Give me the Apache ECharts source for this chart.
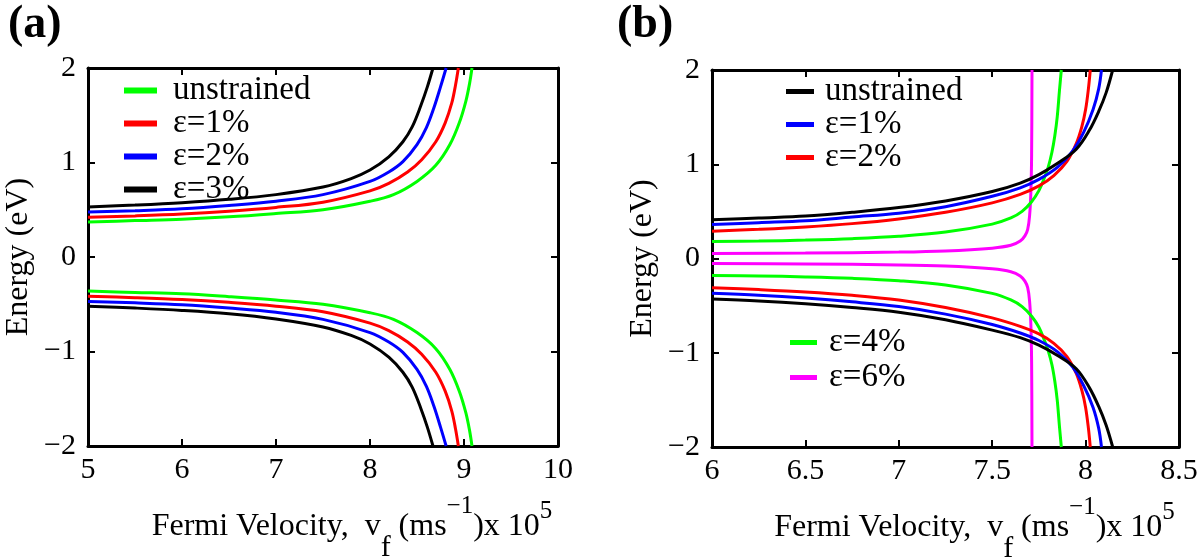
<!DOCTYPE html>
<html>
<head>
<meta charset="utf-8">
<script src="https://cdn.jsdelivr.net/npm/echarts@6/dist/echarts.min.js"></script>
<style>
html,body{margin:0;padding:0;background:#fff;}
#chart{width:1200px;height:560px;}
</style>
</head>
<body>
<div id="chart"></div>
<script>
// ---------- Panel (a) data: Fermi velocity (x 10^5 m/s) vs Energy (eV) ----------
const aTicksX = [5, 6, 7, 8, 9, 10];
const aTicksY = [-2, -1, 0, 1, 2];

const a_v_unstrained = [5, 5.5, 6, 6.5, 7, 7.5, 8, 8.25, 8.5, 8.7, 8.85, 8.95, 9.02, 9.06, 9.085];
const a_Eup_unstrained = [0.37, 0.385, 0.40, 0.425, 0.46, 0.50, 0.59, 0.66, 0.80, 0.97, 1.19, 1.42, 1.65, 1.84, 2.0];
const a_Elo_unstrained = [-0.36, -0.375, -0.39, -0.42, -0.455, -0.50, -0.59, -0.66, -0.80, -0.97, -1.19, -1.42, -1.65, -1.84, -2.0];

const a_v_e1 = [5, 5.5, 6, 6.5, 7, 7.5, 8, 8.2, 8.4, 8.55, 8.7, 8.8, 8.87, 8.91, 8.94];
const a_Eup_e1 = [0.42, 0.435, 0.455, 0.485, 0.525, 0.58, 0.70, 0.78, 0.90, 1.03, 1.22, 1.42, 1.63, 1.82, 2.0];
const a_Elo_e1 = [-0.415, -0.43, -0.45, -0.48, -0.52, -0.58, -0.70, -0.78, -0.90, -1.03, -1.22, -1.42, -1.63, -1.82, -2.0];

const a_v_e2 = [5, 5.5, 6, 6.5, 7, 7.5, 8, 8.2, 8.35, 8.5, 8.6, 8.68, 8.75, 8.81];
const a_Eup_e2 = [0.475, 0.49, 0.51, 0.545, 0.59, 0.66, 0.80, 0.90, 1.01, 1.19, 1.37, 1.58, 1.80, 2.0];
const a_Elo_e2 = [-0.47, -0.485, -0.505, -0.54, -0.585, -0.66, -0.80, -0.90, -1.01, -1.19, -1.37, -1.58, -1.80, -2.0];

const a_v_e3 = [5, 5.5, 6, 6.5, 7, 7.5, 7.8, 8, 8.2, 8.35, 8.45, 8.54, 8.61, 8.67];
const a_Eup_e3 = [0.53, 0.55, 0.575, 0.61, 0.66, 0.74, 0.83, 0.92, 1.06, 1.22, 1.38, 1.60, 1.80, 2.0];
const a_Elo_e3 = [-0.52, -0.54, -0.565, -0.60, -0.655, -0.74, -0.83, -0.92, -1.06, -1.22, -1.38, -1.60, -1.80, -2.0];

// ---------- Panel (b) data ----------
const bTicksX = [6, 6.5, 7, 7.5, 8, 8.5];
const bTicksY = [-2, -1, 0, 1, 2];

const b_v_unstrained = [6, 6.25, 6.5, 6.75, 7, 7.25, 7.5, 7.65, 7.75, 7.85, 7.95, 8.02, 8.07, 8.11, 8.145];
const b_Eup_unstrained = [0.41, 0.43, 0.45, 0.49, 0.54, 0.61, 0.71, 0.80, 0.89, 1.01, 1.16, 1.36, 1.56, 1.76, 2.0];
const b_Elo_unstrained = [-0.43, -0.45, -0.48, -0.52, -0.57, -0.65, -0.76, -0.84, -0.92, -1.03, -1.17, -1.37, -1.57, -1.77, -2.0];

const b_v_e1 = [6, 6.25, 6.5, 6.75, 7, 7.25, 7.5, 7.65, 7.75, 7.85, 7.93, 7.99, 8.04, 8.07, 8.085];
const b_Eup_e1 = [0.36, 0.38, 0.40, 0.44, 0.48, 0.55, 0.66, 0.75, 0.84, 0.97, 1.14, 1.34, 1.58, 1.80, 2.0];
const b_Elo_e1 = [-0.37, -0.39, -0.42, -0.46, -0.51, -0.59, -0.70, -0.79, -0.87, -0.99, -1.15, -1.35, -1.58, -1.80, -2.0];

const b_v_e2 = [6, 6.25, 6.5, 6.75, 7, 7.25, 7.5, 7.65, 7.75, 7.83, 7.9, 7.95, 7.98, 8.0, 8.015, 8.025];
const b_Eup_e2 = [0.29, 0.31, 0.335, 0.37, 0.42, 0.49, 0.59, 0.68, 0.77, 0.88, 1.03, 1.22, 1.40, 1.58, 1.80, 2.0];
const b_Elo_e2 = [-0.31, -0.33, -0.355, -0.39, -0.44, -0.52, -0.63, -0.72, -0.80, -0.90, -1.04, -1.22, -1.40, -1.58, -1.80, -2.0];

const b_v_e4 = [6, 6.25, 6.5, 6.75, 7, 7.25, 7.5, 7.6, 7.66, 7.71, 7.75, 7.78, 7.8, 7.82, 7.835, 7.848, 7.86, 7.87];
const b_Eup_e4 = [0.18, 0.185, 0.195, 0.21, 0.235, 0.28, 0.365, 0.43, 0.50, 0.60, 0.72, 0.86, 0.97, 1.13, 1.30, 1.50, 1.78, 2.0];
const b_Elo_e4 = [-0.18, -0.185, -0.195, -0.21, -0.235, -0.28, -0.37, -0.44, -0.51, -0.61, -0.73, -0.87, -0.98, -1.13, -1.30, -1.50, -1.78, -2.0];

const b_v_e6 = [6, 6.5, 7, 7.25, 7.5, 7.6, 7.65, 7.675, 7.69, 7.7, 7.707, 7.711, 7.713];
const b_Eup_e6 = [0.053, 0.058, 0.068, 0.08, 0.11, 0.14, 0.185, 0.24, 0.31, 0.45, 0.70, 1.10, 2.0];
const b_Elo_e6 = [-0.053, -0.058, -0.068, -0.08, -0.11, -0.14, -0.185, -0.24, -0.31, -0.45, -0.70, -1.10, -2.0];

// names & colours
const aNames = ['unstrained', 'ε=1%', 'ε=2%', 'ε=3%'];
const aColors = ['#00ff00', '#ff0000', '#0000ff', '#000000'];
const bNames = ['unstrained', 'ε=1%', 'ε=2%', 'ε=4%', 'ε=6%'];
const bColors = ['#000000', '#0000ff', '#ff0000', '#00ff00', '#ff00ff'];

// ---------- build ----------
const FONT = 'Liberation Serif, Times New Roman, serif';
function branch(v, up, lo) {
  const d = v.map((x, i) => [x, up[i]]);
  d.push('-');
  return d.concat(v.map((x, i) => [x, lo[i]]));
}
const aCurves = [
  branch(a_v_unstrained, a_Eup_unstrained, a_Elo_unstrained),
  branch(a_v_e1, a_Eup_e1, a_Elo_e1),
  branch(a_v_e2, a_Eup_e2, a_Elo_e2),
  branch(a_v_e3, a_Eup_e3, a_Elo_e3)
];
const bCurves = [
  branch(b_v_unstrained, b_Eup_unstrained, b_Elo_unstrained),
  branch(b_v_e1, b_Eup_e1, b_Elo_e1),
  branch(b_v_e2, b_Eup_e2, b_Elo_e2),
  branch(b_v_e4, b_Eup_e4, b_Elo_e4),
  branch(b_v_e6, b_Eup_e6, b_Elo_e6)
];

const fmt = v => String(v).replace('-', '\u2212');
function mainX(gi, ticks) {
  return {
    type: 'value', gridIndex: gi, position: 'bottom',
    min: ticks[0], max: ticks[ticks.length - 1], interval: ticks[1] - ticks[0],
    axisLine: { show: true, onZero: false, lineStyle: { color: '#000', width: 3 } },
    axisTick: { show: true, inside: true, length: 7, lineStyle: { color: '#000', width: 2 } },
    axisLabel: { color: '#000', fontFamily: FONT, fontSize: 30, margin: 9, formatter: fmt },
    splitLine: { show: false },
    name: '{t|Fermi Velocity,  v}{sub|f}{t| (ms}{sup|\u22121}{t|)x 10}{sup2|5}',
    nameLocation: 'middle', nameGap: 45,
    nameTextStyle: {
      color: '#000', fontFamily: FONT, fontSize: 32, padding: [0, 0, 0, 58],
      rich: {
        t: { fontFamily: FONT, fontSize: 32, color: '#000', lineHeight: 32 },
        sub: { fontFamily: FONT, fontSize: 30, color: '#000', padding: [42, 0, 0, 0] },
        sup: { fontFamily: FONT, fontSize: 25, color: '#000', padding: [0, 0, 42, 0] },
        sup2: { fontFamily: FONT, fontSize: 25, color: '#000', padding: [0, 0, 32, 0] }
      }
    }
  };
}
function topX(gi, ticks) {
  return {
    type: 'value', gridIndex: gi, position: 'top',
    min: ticks[0], max: ticks[ticks.length - 1], interval: ticks[1] - ticks[0],
    axisLine: { show: true, onZero: false, lineStyle: { color: '#000', width: 3 } },
    axisTick: { show: true, inside: true, length: 7, lineStyle: { color: '#000', width: 2 } },
    axisLabel: { show: false }, splitLine: { show: false }
  };
}
function mainY(gi, ticks) {
  return {
    type: 'value', gridIndex: gi, position: 'left',
    min: ticks[0], max: ticks[ticks.length - 1], interval: ticks[1] - ticks[0],
    axisLine: { show: true, onZero: false, lineStyle: { color: '#000', width: 3 } },
    axisTick: { show: true, inside: true, length: 7, lineStyle: { color: '#000', width: 2 } },
    axisLabel: { color: '#000', fontFamily: FONT, fontSize: 30, margin: 12, formatter: fmt },
    splitLine: { show: false },
    name: 'Energy (eV)', nameLocation: 'middle', nameGap: 53,
    nameTextStyle: { color: '#000', fontFamily: FONT, fontSize: 32 }
  };
}
function rightY(gi, ticks) {
  return {
    type: 'value', gridIndex: gi, position: 'right',
    min: ticks[0], max: ticks[ticks.length - 1], interval: ticks[1] - ticks[0],
    axisLine: { show: true, onZero: false, lineStyle: { color: '#000', width: 3 } },
    axisTick: { show: true, inside: true, length: 7, lineStyle: { color: '#000', width: 2 } },
    axisLabel: { show: false }, splitLine: { show: false }
  };
}

const series = [];
aCurves.forEach((d, i) => series.push({
  type: 'line', name: aNames[i], xAxisIndex: 0, yAxisIndex: 0, data: d,
  showSymbol: false, smooth: 0.35, connectNulls: false,
  lineStyle: { color: aColors[i], width: 3 }, itemStyle: { color: aColors[i] },
  z: 10 - i
}));
bCurves.forEach((d, i) => series.push({
  type: 'line', name: bNames[i], xAxisIndex: 2, yAxisIndex: 2, data: d,
  showSymbol: false, smooth: 0.35, connectNulls: false,
  lineStyle: { color: bColors[i], width: 3 }, itemStyle: { color: bColors[i] },
  z: 10 - i
}));

function legendItems(names, colors, idx) {
  return idx.map(i => ({ name: names[i], itemStyle: { color: colors[i] } }));
}
const legendText = (lh, pad) => ({ color: '#000', fontFamily: FONT, fontSize: 33, lineHeight: lh, padding: [0, 0, 0, pad] });

const option = {
  animation: false,
  backgroundColor: '#fff',
  grid: [
    { left: 88, top: 68, width: 470, height: 378, outerBoundsMode: 'none', containLabel: false },
    { left: 712, top: 70, width: 467, height: 377, outerBoundsMode: 'none', containLabel: false }
  ],
  xAxis: [mainX(0, aTicksX), topX(0, aTicksX), mainX(1, bTicksX), topX(1, bTicksX)],
  yAxis: [mainY(0, aTicksY), rightY(0, aTicksY), mainY(1, bTicksY), rightY(1, bTicksY)],
  legend: [
    { orient: 'vertical', left: 124, top: 74, padding: 0, itemGap: 0, icon: 'rect',
      itemWidth: 33, itemHeight: 6, selectedMode: false,
      data: legendItems(aNames, aColors, [0, 1, 2, 3]), textStyle: legendText(29, 11) },
    { orient: 'vertical', left: 786, top: 75, padding: 0, itemGap: 0, icon: 'rect',
      itemWidth: 28, itemHeight: 5, selectedMode: false,
      data: legendItems(bNames, bColors, [0, 1, 2]), textStyle: legendText(32.5, 6) },
    { orient: 'vertical', left: 790, top: 325, padding: 0, itemGap: 0, icon: 'rect',
      itemWidth: 27, itemHeight: 5, selectedMode: false,
      data: legendItems(bNames, bColors, [3, 4]), textStyle: legendText(35, 7) }
  ],
  graphic: [
    { type: 'text', left: 8, top: 2, style: { text: '(a)', fontFamily: FONT, fontWeight: 'bold', fontSize: 46, fill: '#000' } },
    { type: 'text', left: 617, top: 2, style: { text: '(b)', fontFamily: FONT, fontWeight: 'bold', fontSize: 46, fill: '#000' } }
  ],
  series: series
};

const chart = echarts.init(document.getElementById('chart'), null, { renderer: 'canvas' });
chart.setOption(option);
</script>
</body>
</html>
